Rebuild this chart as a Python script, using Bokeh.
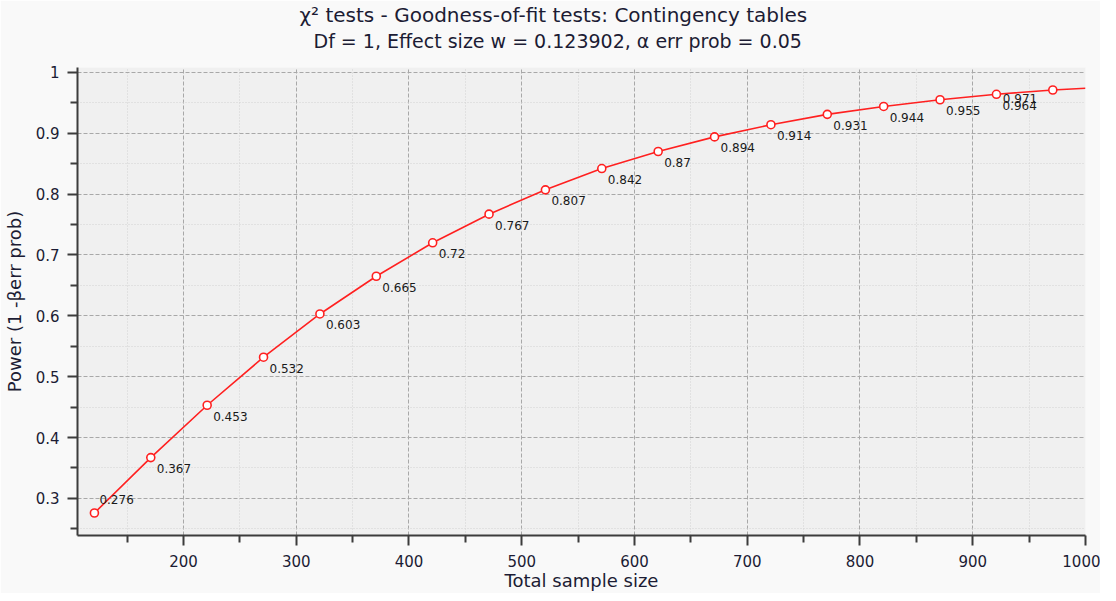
from bokeh.plotting import figure
from bokeh.models import FixedTicker, Range1d, Title, ColumnDataSource
from bokeh.core.properties import value
from bokeh.embed import file_html
from bokeh.resources import INLINE

title_line1 = "χ² tests - Goodness-of-fit tests: Contingency tables"
title_line2 = "Df = 1, Effect size w = 0.123902, α err prob = 0.05"
x_label = "Total sample size"
y_label = "Power (1 -βerr prob)"

sample_size = [121, 171, 221, 271, 321, 371, 421, 471, 521, 571, 621, 671, 721, 771, 821, 871, 921, 971]
power = [0.276, 0.367, 0.453, 0.532, 0.603, 0.665, 0.72, 0.767, 0.807, 0.842, 0.87, 0.894, 0.914,
         0.931, 0.944, 0.955, 0.964, 0.971]
power_labels = ["0.276", "0.367", "0.453", "0.532", "0.603", "0.665", "0.72", "0.767", "0.807", "0.842",
                "0.87", "0.894", "0.914", "0.931", "0.944", "0.955", "0.964", "0.971"]
curve_end_x = [1000]
curve_end_y = [0.974]

x_ticks = [200, 300, 400, 500, 600, 700, 800, 900, 1000]
x_minor = [150, 250, 350, 450, 550, 650, 750, 850, 950]
y_ticks = [0.3, 0.4, 0.5, 0.6, 0.7, 0.8, 0.9, 1.0]
y_tick_labels = ["0.3", "0.4", "0.5", "0.6", "0.7", "0.8", "0.9", "1"]
y_minor = [0.25, 0.35, 0.45, 0.55, 0.65, 0.75, 0.85, 0.95]

FONT = "DejaVu Sans"
TXT = "#1c1c34"

p = figure(output_backend="svg", toolbar_location=None, title=None,
           width=1100, height=593,
           min_border_left=76, min_border_right=15, min_border_top=3, min_border_bottom=4,
           x_range=Range1d(106, 1000), y_range=Range1d(0.239, 1.008))

# spacer between the plot frame and the two title lines
p.add_layout(Title(text=" ", text_font=FONT, text_font_size="1px", standoff=12), "above")
p.add_layout(Title(text=title_line2, align="left", text_font=FONT, text_font_size="19px",
                   text_font_style="normal", text_color=TXT, standoff=2, offset=236), "above")
p.add_layout(Title(text=title_line1, align="left", text_font=FONT, text_font_size="20px",
                   text_font_style="normal", text_color=TXT, standoff=0, offset=222), "above")

p.border_fill_color = "#f9f9f9"
p.background_fill_color = "#f0f0f0"
p.outline_line_color = None

p.xaxis.ticker = FixedTicker(ticks=x_ticks, minor_ticks=x_minor)
p.yaxis.ticker = FixedTicker(ticks=y_ticks, minor_ticks=y_minor)
p.yaxis.major_label_overrides = {t: s for t, s in zip(y_ticks, y_tick_labels)}

for ax in (p.xaxis, p.yaxis):
    ax.axis_line_color = "#3c3c3c"
    ax.axis_line_width = 2
    ax.major_tick_line_color = "#3c3c3c"
    ax.major_tick_line_width = 2
    ax.minor_tick_line_color = "#3c3c3c"
    ax.minor_tick_line_width = 2
    ax.major_tick_in = 0
    ax.minor_tick_in = 0
    ax.major_tick_out = 10
    ax.minor_tick_out = 7
    ax.major_label_text_font = FONT
    ax.major_label_text_font_size = "15px"
    ax.major_label_text_color = TXT
    ax.axis_label_text_font = FONT
    ax.axis_label_text_font_size = "18px"
    ax.axis_label_text_font_style = "normal"
    ax.axis_label_text_color = TXT

p.xaxis.axis_label = x_label
p.yaxis.axis_label = y_label
p.xaxis.major_label_standoff = 9
p.xaxis.axis_label_standoff = 0
p.yaxis.major_label_standoff = 8
p.yaxis.axis_label_standoff = 8

for g in (p.xgrid, p.ygrid):
    g.grid_line_color = "#a8a8a8"
    g.grid_line_dash = "4 2"
    g.grid_line_width = 1
    g.minor_grid_line_color = "#d2d2d2"
    g.minor_grid_line_dash = "1 2"
    g.minor_grid_line_width = 1

p.line(sample_size + curve_end_x, power + curve_end_y, line_color="#ff2020", line_width=1.6)
p.scatter(sample_size, power, size=8, marker="circle", fill_color="white",
          line_color="#ff2020", line_width=1.6)

src_mid = ColumnDataSource(dict(x=sample_size[1:-1], y=power[1:-1], t=power_labels[1:-1]))
p.text(x="x", y="y", text="t", source=src_mid, x_offset=6, y_offset=11,
       text_font=value(FONT), text_font_size="12px", text_color="#1a1a1a",
       text_align="left", text_baseline="middle")
p.text(x=sample_size[:1], y=power[:1], text=power_labels[:1], x_offset=5, y_offset=-13,
       text_font=value(FONT), text_font_size="12px", text_color="#1a1a1a",
       text_align="left", text_baseline="middle")
p.text(x=sample_size[-1:], y=power[-1:], text=power_labels[-1:], x_offset=-50, y_offset=8,
       text_font=value(FONT), text_font_size="12px", text_color="#1a1a1a",
       text_align="left", text_baseline="middle")

open("out.html", "w").write(file_html(p, INLINE))
